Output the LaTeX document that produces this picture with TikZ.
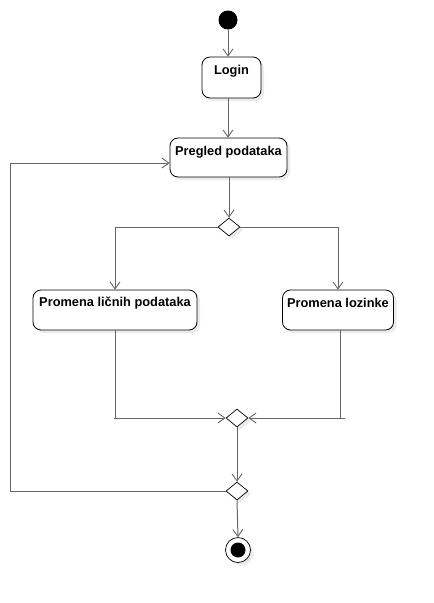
\documentclass[tikz,border=0pt]{standalone}
\usepackage{fontspec}
\setmainfont{Liberation Sans}
\usetikzlibrary{arrows.meta,shapes.geometric,calc}
\definecolor{linec}{HTML}{666666}
\definecolor{shad}{HTML}{EBEBEB}
\tikzset{
  act/.style={draw=black,line width=0.8pt,rounded corners=8pt,fill=white,
    inner sep=0pt,
    preaction={draw=none,fill=shad,transform canvas={shift={(3pt,-3pt)}}}},
  lbl/.style={font=\bfseries\fontsize{12.8pt}{15pt}\selectfont,inner sep=0pt},
  dec/.style={draw=black,line width=0.7pt,diamond,fill=white,inner sep=0pt,
    minimum width=22pt,minimum height=18pt,aspect=1.2,
    preaction={draw=none,fill=shad,transform canvas={shift={(3pt,-3pt)}}}},
  flow/.style={draw=linec,line width=1pt,-{Straight Barb[length=7pt,width=10pt,line width=0.9pt]}},
  plain/.style={draw=linec,line width=1pt},
}
\begin{document}
\begin{tikzpicture}[x=1pt,y=-1pt]
\useasboundingbox (0,0) rectangle (434,603);
% start
\node[circle,fill=black,minimum size=19pt,inner sep=0pt] (start) at (228,20) {};
% activities
\node[act,minimum width=59pt,minimum height=41pt] (login) at (231.5,77.5) {};
\node[lbl] (loginT) at (231.5,71) {Login};
\node[act,minimum width=117pt,minimum height=39pt] (pregled) at (228.5,157.5) {};
\node[lbl] (pregledT) at (228.5,152) {Pregled podataka};
\node[act,minimum width=164pt,minimum height=40pt] (lic) at (115,310) {};
\node[lbl] (licT) at (115,303) {Promena ličnih podataka};
\node[act,minimum width=111pt,minimum height=40pt] (loz) at (338,310) {};
\node[lbl] (lozT) at (338,303) {Promena lozinke};
% decisions
\node[dec] (d1) at (229,227) {};
\node[dec] (d2) at (237,418) {};
\node[dec] (d3) at (237,491) {};
% end
\node[circle,draw=black,line width=0.7pt,fill=white,minimum size=25pt,inner sep=0pt,
  preaction={draw=none,fill=shad,transform canvas={shift={(3pt,-3pt)}}}] (end) at (238,550) {};
\node[circle,fill=black,minimum size=15pt,inner sep=0pt] (endin) at (end.center) {};
% helper coordinates
\coordinate (lx) at (10,491);
\coordinate (ly) at (10,163);
\coordinate (pin) at (pregled.west |- ly);
% connectors
\draw[flow] (start.south) -- (start.south |- login.north);
\draw[flow] (login.south -| start) -- (start |- pregled.north);
\draw[flow] (pregled.south -| d1) -- (d1.north);
\draw[flow] (d1.west) -| (lic.north);
\draw[flow] (d1.east) -| (loz.north);
\draw[plain] (lic.south) -- (lic.south |- d2.west);
\draw[flow] ($(lic.south |- d2.west)+(-1,0)$) -- (d2.west);
\draw[plain] ($(loz.south)+(2,0)$) -- ($(loz.south |- d2.east)+(2,0)$);
\draw[flow] ($(loz.south |- d2.east)+(7,0)$) -- (d2.east);
\draw[flow] (d2.south) -- (d3.north);
\draw[flow] (d3.west) -- (lx) -- (ly) -- (pin);
\draw[flow] (d3.south) -- (end.north);
\end{tikzpicture}
\end{document}
